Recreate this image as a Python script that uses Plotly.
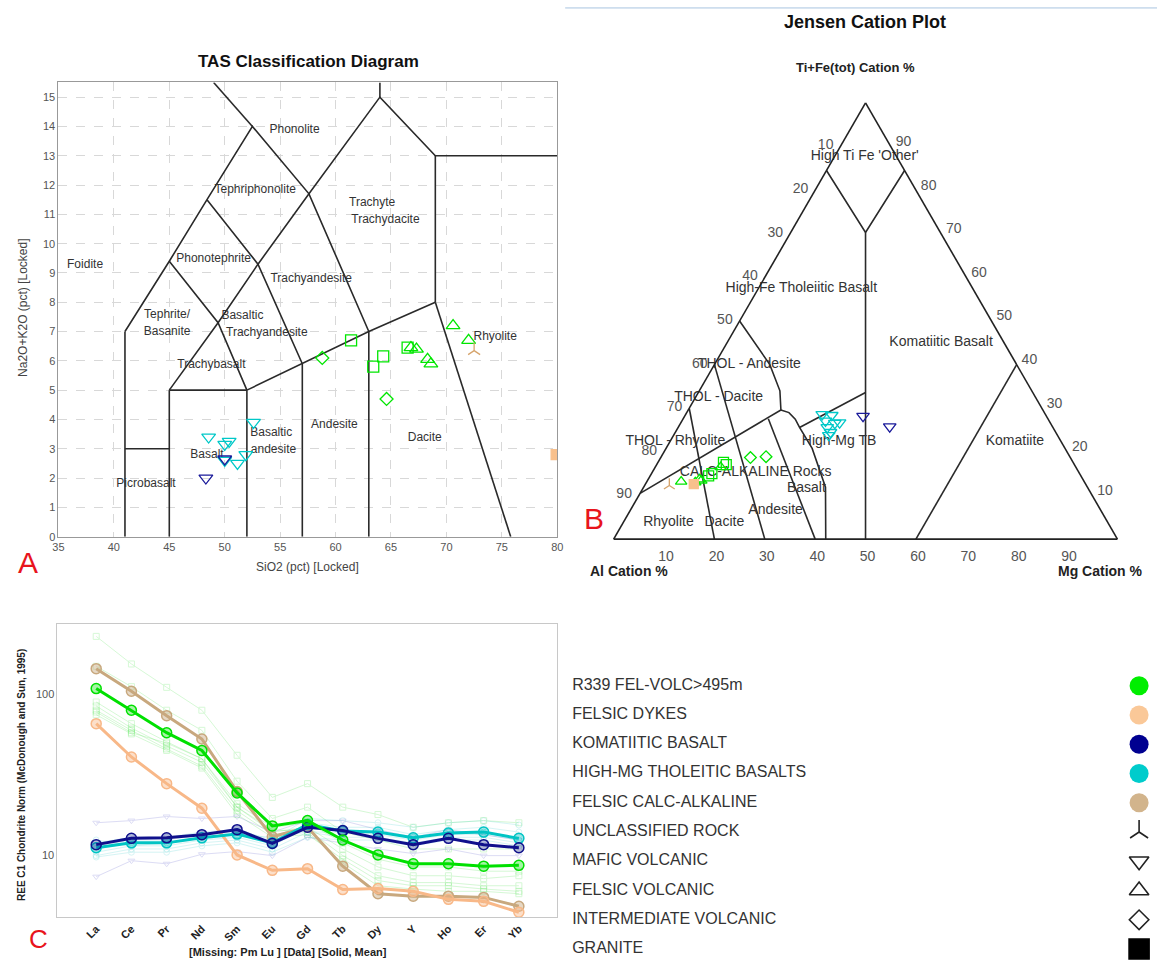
import plotly.graph_objects as go

W, H = 1163, 968


def px(x):
    return x / W


def py(y):
    return 1 - y / H


# ---------------- TAS diagram data ----------------
tas_green_sq_x = [61.4, 63.4, 64.3, 66.5]
tas_green_sq_y = [6.7, 5.8, 6.15, 6.45]
tas_green_tri_x = [70.6, 72.0, 66.8, 67.3, 68.3, 68.6]
tas_green_tri_y = [7.2, 6.7, 6.45, 6.4, 6.05, 5.9]
tas_green_dia_x = [58.8, 64.6]
tas_green_dia_y = [6.1, 4.7]
tas_cyan_x = [48.55, 50.0, 50.4, 50.0, 51.15, 51.9, 52.6]
tas_cyan_y = [3.4, 3.15, 3.25, 2.6, 2.5, 2.8, 3.9]
tas_navy_x = [48.3, 50.0]
tas_navy_y = [2.0, 2.65]
tas_unclass_x = [72.5]
tas_unclass_y = [6.35]
tas_dyke_x = [79.9]
tas_dyke_y = [2.8]

# field boundaries (SiO2, Na2O+K2O)
tas_bounds = [
    ([41, 41], [0, 7]),
    ([41, 45], [3, 3]),
    ([45, 45], [0, 5]),
    ([45, 52], [5, 5]),
    ([52, 52], [0, 5]),
    ([57, 57], [0, 5.9]),
    ([63, 63], [0, 7]),
    ([52, 57, 63, 69], [5, 5.9, 7, 8]),
    ([69, 75.8], [8, 0]),
    ([69, 69, 80], [8, 13, 13]),
    ([64, 64], [15, 15.5]),
    ([69, 64, 57.6, 53, 49.4, 45], [13, 15, 11.7, 9.3, 7.3, 5]),
    ([41, 45, 48.4, 52.5, 57.6, 63], [7, 9.4, 11.5, 14, 11.7, 7]),
    ([49.0, 52.5], [15.5, 14]),
    ([45, 49.4, 52], [9.4, 7.3, 5]),
    ([48.4, 53, 57], [11.5, 9.3, 5.9]),
]

tas_field_names = ["Phonolite", "Tephriphonolite", "Trachyte", "Trachydacite", "Foidite",
                   "Phonotephrite", "Trachyandesite", "Tephrite/", "Basanite", "Basaltic",
                   "Trachyandesite", "Trachybasalt", "Rhyolite", "Andesite", "Basaltic",
                   "andesite", "Dacite", "Basalt", "Picrobasalt"]
tas_field_x = [56.3, 52.75, 63.3, 64.5, 37.4, 49.0, 57.8, 44.8, 44.8, 51.6,
               53.8, 48.8, 74.4, 59.9, 54.2, 54.4, 68.05, 48.4, 42.9]
tas_field_y = [13.88, 11.83, 11.37, 10.79, 9.28, 9.49, 8.78, 7.56, 7.0, 7.52,
               6.95, 5.87, 6.8, 3.8, 3.55, 2.97, 3.37, 2.79, 1.78]

# ---------------- Jensen cation data (Al, Fe+Ti, Mg in %) ----------------
jen_green_sq = [(69.4, 17.6, 13.0), (69.1, 17.1, 13.8), (73.0, 15.0, 12.0), (73.9, 14.5, 11.6)]
jen_green_tri = [(80.0, 13.2, 6.8), (76.1, 13.7, 10.2), (75.9, 13.4, 10.7), (77.3, 13.0, 9.7), (70.5, 16.5, 13.0)]
jen_green_dia = [(63.5, 18.7, 17.8), (60.3, 18.9, 20.8)]
jen_unclass = [(82.8, 12.3, 4.9)]
jen_dyke = [(77.8, 12.6, 9.6)]
jen_cyan = [(44.3, 28.6, 27.1), (42.5, 28.4, 29.1), (44.4, 27.1, 28.5), (42.8, 26.6, 30.6),
            (41.8, 26.7, 31.5), (44.8, 25.6, 29.6), (44.7, 24.5, 30.8), (45.4, 23.8, 30.8)]
jen_navy = [(36.4, 28.2, 35.4), (32.3, 25.8, 41.9)]

jen_bounds = [
    [(15.5, 84.5, 0), (14.85, 70.3, 14.85), (0, 84.5, 15.5)],
    [(14.85, 70.3, 14.85), (50, 0, 50)],
    [(40, 0, 60), (0, 40, 60)],
    [(50, 50, 0), (49, 40, 11), (50, 34, 16), (52, 29.6, 18.4)],
    [(89.5, 10.5, 0), (52, 29.6, 18.4)],
    [(52, 29.6, 18.4), (50.7, 29, 20.3), (50.2, 27.5, 22.3), (50.3, 25.6, 24.1),
     (50.2, 20.8, 29), (52, 11.9, 36.1), (57.9, 0, 42.1)],
    [(50.3, 25.6, 24.1), (33.2, 33.6, 33.2)],
    [(70, 30, 0), (80, 0, 20)],
    [(60, 40, 0), (70, 0, 30)],
    [(55.5, 27.6, 16.9), (60, 0, 40)],
]

jen_field_names = ["High Ti Fe 'Other'", "High-Fe Tholeiitic Basalt", "Komatiitic Basalt",
                   "THOL - Andesite", "THOL - Dacite", "THOL - Rhyolite", "High-Mg TB",
                   "Komatiite", "CALC-ALKALINE Rocks", "Basalt", "Andesite", "Dacite", "Rhyolite"]
jen_field_pos = [(6.3, 87.75, 5.97), (34.0, 57.5, 8.5), (12.5, 45.0, 42.5), (53.0, 40.1, 6.9),
                 (62.9, 32.5, 4.6), (76.6, 22.3, 1.1), (44.1, 22.3, 33.6), (9.2, 22.3, 68.5),
                 (64.2, 15.2, 20.6), (56.0, 11.5, 32.5), (64.6, 6.5, 28.9), (76.1, 3.85, 20.05),
                 (87.2, 3.85, 8.95)]

tick_vals = [10, 20, 30, 40, 50, 60, 70, 80, 90]
tick_text = ["90", "80", "70", "60", "50", "40", "30", "20", "10"]

# ---------------- REE spider data ----------------
ree = ["La", "Ce", "Pr", "Nd", "Sm", "Eu", "Gd", "Tb", "Dy", "Y", "Ho", "Er", "Yb"]
mean_fel_volc = [109, 80, 58, 45, 24.5, 15.3, 16.5, 12.5, 10.1, 8.9, 8.9, 8.6, 8.7]
mean_dykes = [66, 41, 28, 19.7, 10.1, 8.1, 8.3, 6.15, 6.25, 6.0, 5.35, 5.2, 4.45]
mean_calc = [145, 105, 74, 53, 25, 13.1, 15, 8.6, 5.8, 5.6, 5.6, 5.5, 4.85]
mean_komb = [11.7, 12.8, 12.9, 13.5, 14.5, 11.9, 15, 14.3, 12.8, 11.7, 12.8, 11.7, 11.2]
mean_himg = [11.2, 12, 12, 12.9, 13.6, 12, 15.6, 14.2, 14, 12.9, 13.8, 14, 12.8]

fel_volc_samples = [
    [230, 155, 111, 80, 42, 23, 28, 20, 18, 15, 16, 16.5, 16],
    [150, 112, 80, 60, 29, 17, 20, 14, 12.5, 11, 11, 11, 11],
    [90, 66, 51, 40, 21, 15, 16, 12, 9.5, 8.5, 8.5, 8, 8],
    [85, 62, 48, 38, 20, 14, 15, 11, 8.5, 7.5, 7.5, 7.2, 7.5],
    [80, 60, 46, 36, 19, 13.5, 14.5, 10, 7.5, 6.8, 6.8, 6.5, 6.5],
    [78, 58, 50, 40, 20, 14.5, 14, 9, 6.5, 6.2, 6, 6, 5.8],
    [75, 57, 45, 35, 18, 13, 13.5, 9.5, 7, 6.5, 6.5, 6.2, 6],
]
himg_samples = [
    [12, 13, 13, 14, 14.5, 12.5, 17, 16.5, 16, 15, 16, 16.5, 15.5],
    [11.5, 12.5, 12.5, 13.5, 14, 12, 16, 15, 15, 13.5, 14.5, 15, 14],
    [11, 12, 12, 13, 13.5, 12, 15.5, 14.5, 14, 13, 14, 14, 13],
    [10.5, 11.5, 11.5, 12.5, 13, 11.5, 15, 14, 13.5, 12.5, 13.5, 13.5, 12.5],
    [10, 11, 11, 12, 12.5, 11, 14, 13, 13, 12, 13, 13, 12],
    [9.8, 10.5, 10.5, 11.5, 12, 10.5, 13, 12.5, 12.5, 11.5, 12.5, 12.5, 11.5],
    [12.5, 11.5, 12, 13, 13.5, 13, 14, 14, 14, 13, 13.5, 14, 12.5],
]
komb_samples = [
    [16, 16.5, 17.5, 17, 17.5, 14, 16.5, 16.5, 14.5, 13, 14.5, 13.5, 12.5],
    [7.4, 9.3, 8.9, 10.2, 10.6, 10, 13, 12, 11, 10.3, 11, 10, 10],
]

# ---------------- legend entries ----------------
legend_names = ["R339 FEL-VOLC>495m", "FELSIC DYKES", "KOMATIITIC BASALT",
                "HIGH-MG THOLEITIC BASALTS", "FELSIC CALC-ALKALINE", "UNCLASSIFIED ROCK",
                "MAFIC VOLCANIC", "FELSIC VOLCANIC", "INTERMEDIATE VOLCANIC", "GRANITE"]
legend_symbols = ["circle", "circle", "circle", "circle", "circle", "y-up",
                  "triangle-down-open", "triangle-up-open", "diamond-open", "square"]
legend_colors = ["#00ee00", "#fac898", "#000090", "#00cccc", "#d2b48c",
                 "#222222", "#222222", "#222222", "#222222", "#000000"]
legend_sizes = [19, 19, 19, 19, 19, 15, 17, 17, 15, 20]

GREEN = "#00e600"
CYAN = "#00c8c8"
NAVY = "#1a1a9a"
PEACH = "#f8c08c"
TAN = "#c8a87e"
UNCL = "#d6a46c"

fig = go.Figure()

# ---------- panel A: TAS ----------
bx, by = [], []
for xs, ys in tas_bounds:
    bx += list(xs) + [None]
    by += list(ys) + [None]
fig.add_trace(go.Scatter(x=bx, y=by, mode="lines", line=dict(color="#2a2a2a", width=1.6),
                         xaxis="x", yaxis="y", hoverinfo="skip"))
fig.add_trace(go.Scatter(x=tas_field_x, y=tas_field_y, mode="text", text=tas_field_names,
                         textfont=dict(size=12, color="#333", family="Arial"),
                         xaxis="x", yaxis="y", hoverinfo="skip"))


def tas_pts(xs, ys, symbol, color, size=11):
    fig.add_trace(go.Scatter(x=xs, y=ys, mode="markers", xaxis="x", yaxis="y",
                             marker=dict(symbol=symbol, size=size, color=color,
                                         line=dict(color=color, width=1.3)),
                             cliponaxis=True))


tas_pts(tas_green_sq_x, tas_green_sq_y, "square-open", GREEN)
tas_pts(tas_green_tri_x, tas_green_tri_y, "triangle-up-open", GREEN, 12)
tas_pts(tas_green_dia_x, tas_green_dia_y, "diamond-open", GREEN, 10)
tas_pts(tas_cyan_x, tas_cyan_y, "triangle-down-open", CYAN, 12)
tas_pts(tas_navy_x, tas_navy_y, "triangle-down-open", NAVY, 12)
tas_pts(tas_unclass_x, tas_unclass_y, "y-up", UNCL, 10)
tas_pts(tas_dyke_x, tas_dyke_y, "square", PEACH, 10)

# ---------- panel B: Jensen ternary ----------
ja, jb, jc = [], [], []
for seg in jen_bounds:
    for al, fe, mg in seg:
        ja.append(fe)
        jb.append(al)
        jc.append(mg)
    ja.append(None)
    jb.append(None)
    jc.append(None)
fig.add_trace(go.Scatterternary(a=ja, b=jb, c=jc, mode="lines",
                                line=dict(color="#2a2a2a", width=1.6), hoverinfo="skip"))
fig.add_trace(go.Scatterternary(a=[p[1] for p in jen_field_pos], b=[p[0] for p in jen_field_pos],
                                c=[p[2] for p in jen_field_pos], mode="text", text=jen_field_names,
                                textfont=dict(size=14, color="#333", family="Arial"),
                                hoverinfo="skip", cliponaxis=False))


def jen_pts(pts, symbol, color, size=10):
    fig.add_trace(go.Scatterternary(a=[p[1] for p in pts], b=[p[0] for p in pts],
                                    c=[p[2] for p in pts], mode="markers",
                                    marker=dict(symbol=symbol, size=size, color=color,
                                                line=dict(color=color, width=1.3))))


jen_pts(jen_green_sq, "square-open", GREEN)
jen_pts(jen_green_tri, "triangle-up-open", GREEN)
jen_pts(jen_green_dia, "diamond-open", GREEN, 9)
jen_pts(jen_unclass, "y-up", UNCL, 9)
jen_pts(jen_dyke, "square", PEACH, 9)
jen_pts(jen_cyan, "triangle-down-open", CYAN, 11)
jen_pts(jen_navy, "triangle-down-open", NAVY, 11)

# ---------- panel C: REE ----------


def faint(samples, color, symbol):
    for s in samples:
        fig.add_trace(go.Scatter(x=ree, y=s, mode="lines+markers", xaxis="x2", yaxis="y2",
                                 opacity=0.2, line=dict(color=color, width=1),
                                 marker=dict(symbol=symbol, size=6, color=color)))


faint(fel_volc_samples, "#33dd33", "square-open")
faint(himg_samples, "#33cccc", "circle-open")
faint(komb_samples, "#5555cc", "triangle-down-open")


def mean_line(vals, color, fill):
    fig.add_trace(go.Scatter(x=ree, y=vals, mode="lines+markers", xaxis="x2", yaxis="y2",
                             line=dict(color=color, width=3),
                             marker=dict(symbol="circle", size=10, color=fill,
                                         line=dict(color=color, width=1.5))))


mean_line(mean_calc, TAN, "rgba(200,168,126,0.45)")
mean_line(mean_dykes, "#f8b888", "rgba(248,184,136,0.45)")
mean_line(mean_himg, "#00c4c4", "rgba(0,196,196,0.35)")
mean_line(mean_komb, "#10108c", "rgba(16,16,140,0.3)")
mean_line(mean_fel_volc, "#00e000", "rgba(0,224,0,0.35)")

# ---------- legend block ----------
n = len(legend_names)
fig.add_trace(go.Scatter(x=[0.02] * n, y=list(range(n)), mode="text", text=legend_names,
                         textposition="middle right",
                         textfont=dict(size=16, color="#333", family="Arial"),
                         xaxis="x3", yaxis="y3", hoverinfo="skip"))
for i in range(n):
    sym = legend_symbols[i]
    col = legend_colors[i]
    mk = dict(symbol=sym, size=legend_sizes[i], color=col, line=dict(color=col, width=1.6))
    if sym == "circle":
        mk["line"] = dict(width=0)
    fig.add_trace(go.Scatter(x=[0.97], y=[i], mode="markers", marker=mk,
                             xaxis="x3", yaxis="y3", hoverinfo="skip"))

axis_font = dict(size=11, color="#555", family="Arial")
tern_axis = dict(title=dict(text=""), tickvals=tick_vals, ticktext=tick_text,
                 showgrid=False, linecolor="#222", linewidth=1.6, ticks="outside",
                 ticklen=4, tickcolor="rgba(0,0,0,0)",
                 tickfont=dict(size=14, color="#555", family="Arial"))

fig.update_layout(
    width=W, height=H, margin=dict(l=0, r=0, t=0, b=0),
    paper_bgcolor="white", plot_bgcolor="white", showlegend=False,
    font=dict(family="Arial", color="#333"),
    xaxis=dict(domain=[px(53), px(557)], range=[35, 80], tick0=35, dtick=5,
               showgrid=True, gridcolor="#d8d8d8", griddash="dash", gridwidth=1,
               zeroline=False, showline=True, linecolor="#999", mirror=True,
               ticks="", tickfont=axis_font, anchor="y"),
    yaxis=dict(domain=[py(540), py(83)], range=[0, 15.5], tick0=0, dtick=1,
               showgrid=True, gridcolor="#d8d8d8", griddash="dash", gridwidth=1,
               zeroline=False, showline=True, linecolor="#999", mirror=True,
               ticks="", tickfont=axis_font, anchor="x"),
    xaxis2=dict(domain=[px(52), px(557)], type="category", categoryorder="array",
                categoryarray=ree, range=[-1.1, 13.09], anchor="y2",
                tickvals=ree, ticktext=["<b>%s</b>" % r for r in ree], tickangle=-45,
                tickfont=dict(size=11, color="#222", family="Arial"),
                showgrid=False, zeroline=False, showline=True, linecolor="#c8c8c8",
                mirror=True, ticks=""),
    yaxis2=dict(domain=[py(923), py(628)], type="log", range=[0.617, 2.438], anchor="x2",
                tickvals=[10, 100], ticktext=["10", "100"], tickfont=axis_font,
                showgrid=False, zeroline=False, showline=True, linecolor="#c8c8c8",
                mirror=True, ticks=""),
    xaxis3=dict(domain=[px(560), 1.0], range=[0, 1], visible=False, anchor="y3"),
    yaxis3=dict(domain=[0, py(672)], range=[(968 - 690) / 29.44, -18 / 29.44],
                visible=False, anchor="x3"),
    ternary=dict(
        domain=dict(x=[px(614), px(1123)], y=[py(545), py(101)]),
        sum=100, bgcolor="white",
        aaxis=tern_axis, baxis=tern_axis, caxis=tern_axis,
    ),
)

ann = [
    dict(text="<b>TAS Classification Diagram</b>", x=px(306), y=py(62), font=dict(size=17, color="#111")),
    dict(text="Na2O+K2O (pct) [Locked]", x=px(17), y=py(310), textangle=-90, font=dict(size=12, color="#444")),
    dict(text="SiO2 (pct) [Locked]", x=px(305), y=py(571), font=dict(size=12, color="#444")),
    dict(text="A", x=px(22), y=py(566), font=dict(size=30, color="#e8141c")),
    dict(text="<b>Jensen Cation Plot</b>", x=px(868), y=py(22), font=dict(size=18, color="#111")),
    dict(text="<b>Ti+Fe(tot) Cation %</b>", x=px(858), y=py(68), font=dict(size=13, color="#222")),
    dict(text="<b>Al Cation %</b>", x=px(630), y=py(575), font=dict(size=14, color="#222")),
    dict(text="<b>Mg Cation %</b>", x=px(1106), y=py(575), font=dict(size=14, color="#222")),
    dict(text="B", x=px(594), y=py(522), font=dict(size=30, color="#e8141c")),
    dict(text="C", x=px(33), y=py(945), font=dict(size=26, color="#e8141c")),
    dict(text="<b>[Missing: Pm Lu ] [Data] [Solid, Mean]</b>", x=px(285), y=py(958), font=dict(size=11, color="#222")),
    dict(text="<b>REE C1 Chondrite Norm (McDonough and Sun, 1995)</b>", x=px(15), y=py(780), textangle=-90,
         font=dict(size=10, color="#222")),
]
for a in ann:
    a.update(xref="paper", yref="paper", showarrow=False, xanchor="center", yanchor="middle")
fig.update_layout(annotations=ann)

fig.add_shape(type="line", xref="paper", yref="paper", x0=px(565), x1=1.0, y0=py(8), y1=py(8),
              line=dict(color="#a8c4e0", width=1))

fig.write_html("out.html")
